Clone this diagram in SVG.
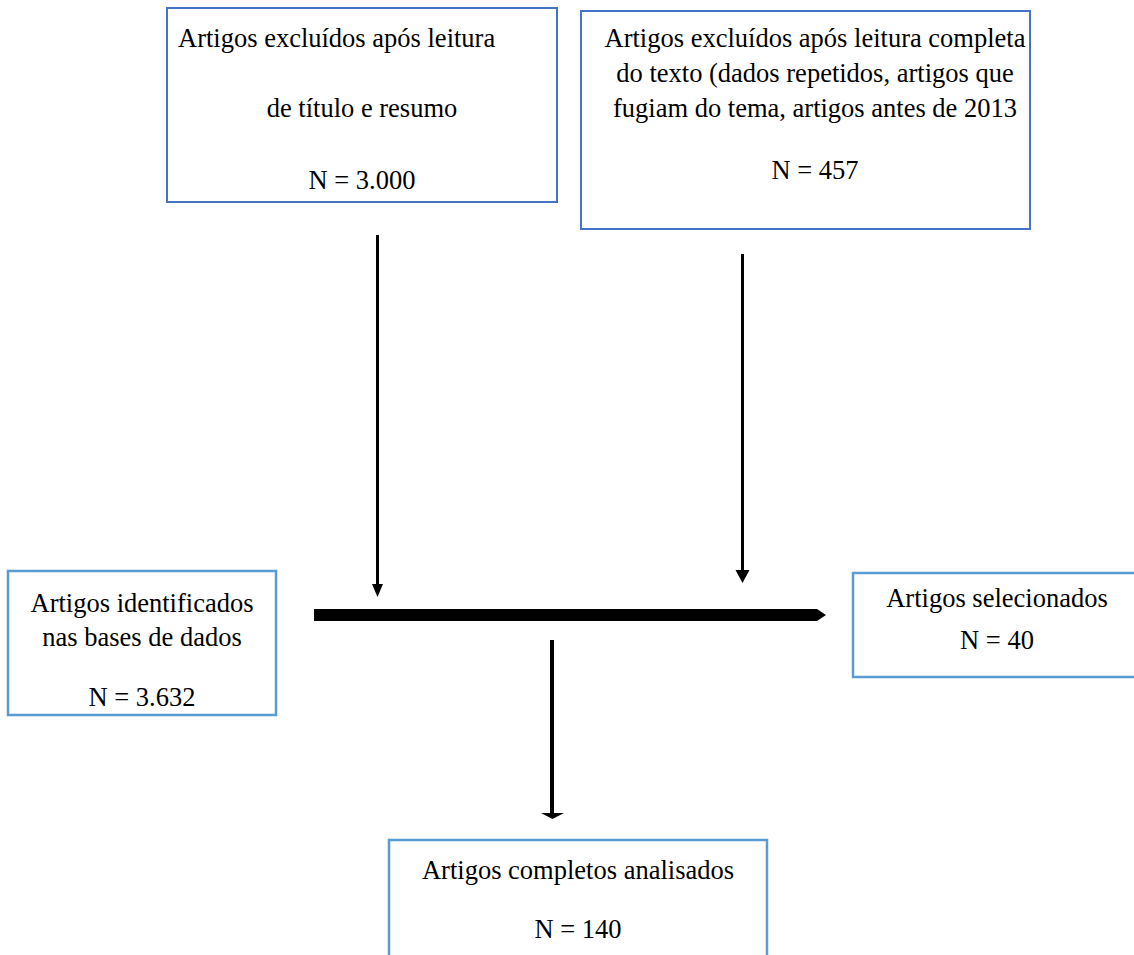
<svg xmlns="http://www.w3.org/2000/svg" width="1134" height="955" viewBox="0 0 1134 955">
<style>
text{font-family:'Liberation Serif','Times New Roman',Times,serif;font-size:26.5px;fill:#000;}
.m{text-anchor:middle;}
.b1{fill:#fff;stroke:#4472C4;stroke-width:2;}
.b2{fill:#fff;stroke:#5B9BD5;stroke-width:2.5;}
.ln{stroke:#000;stroke-width:3;fill:none;}
.hd{fill:#000;stroke:none;}
</style>
<rect width="1134" height="955" fill="#fff"/>
<g id="excl1" font-family="Liberation Serif">
<rect class="b1" x="167" y="8" width="390" height="194"/>
<text x="178" y="47">Artigos excluídos após leitura</text>
<text class="m" x="362" y="117">de título e resumo</text>
<text class="m" x="362" y="189">N = 3.000</text>
</g>
<g id="excl2" font-family="Liberation Serif">
<rect class="b1" x="581" y="11" width="449" height="218"/>
<text class="m" x="815" y="47">Artigos excluídos após leitura completa</text>
<text class="m" x="815" y="82">do texto (dados repetidos, artigos que</text>
<text class="m" x="815" y="117">fugiam do tema, artigos antes de 2013</text>
<text class="m" x="815" y="179">N = 457</text>
</g>
<g id="ident" font-family="Liberation Serif">
<rect class="b2" x="8" y="571" width="268" height="144"/>
<text class="m" x="142" y="612">Artigos identificados</text>
<text class="m" x="142" y="646">nas bases de dados</text>
<text class="m" x="142" y="706">N = 3.632</text>
</g>
<g id="sel" font-family="Liberation Serif">
<rect class="b2" x="853" y="573" width="290" height="104"/>
<text class="m" x="997" y="607">Artigos selecionados</text>
<text class="m" x="997" y="649">N = 40</text>
</g>
<g id="anal" font-family="Liberation Serif">
<rect class="b2" x="389" y="840" width="378" height="130"/>
<text class="m" x="578" y="879">Artigos completos analisados</text>
<text class="m" x="578" y="938">N = 140</text>
</g>
<g id="connectors">
<line class="ln" x1="377.5" y1="235" x2="377.5" y2="586"/>
<polygon class="hd" points="372,584 383,584 377.5,597"/>
<line class="ln" x1="742.5" y1="254" x2="742.5" y2="572"/>
<polygon class="hd" points="735.5,570 749.5,570 742.5,583"/>
<polygon class="hd" points="314,609 817,609 826,615 817,621 314,621"/>
<line class="ln" style="stroke-width:4" x1="552" y1="640" x2="552" y2="815"/>
<polygon class="hd" points="541,813 564,813 552.5,819"/>
</g>
</svg>
